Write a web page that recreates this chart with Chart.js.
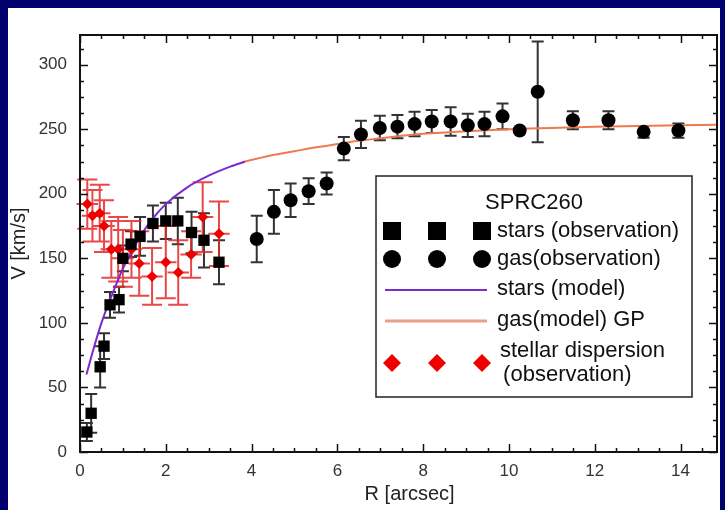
<!DOCTYPE html>
<html>
<head>
<meta charset="utf-8">
<script src="https://cdn.jsdelivr.net/npm/chart.js@4.4.1/dist/chart.umd.min.js"></script>
<style>
html, body { margin: 0; padding: 0; background: #00006e; }
#rc { display: block; }
</style>
</head>
<body>
<canvas id="rc" width="725" height="510"></canvas>
<script>
// stars (observation)
const starR = [0.16, 0.26, 0.47, 0.56, 0.70, 0.91, 1.00, 1.19, 1.40, 1.70, 2.00, 2.28, 2.60, 2.89, 3.24];
const starV = [15.5, 30, 66, 82, 114, 118, 150, 161, 167, 177, 179, 179, 170, 164, 147];
const starErr = [7, 15, 16, 10, 10, 10, 10, 10, 15, 14, 14, 18, 16, 21, 17];

// gas (observation)
const gasR = [4.12, 4.52, 4.91, 5.33, 5.75, 6.15, 6.55, 6.99, 7.40, 7.80, 8.20, 8.64, 9.04, 9.43, 9.85, 10.25, 10.67, 11.49, 12.32, 13.14, 13.95];
const gasV = [165, 186, 195, 202, 208, 235, 246, 251, 252, 254, 256, 256, 253, 254, 260, 249, 279, 257, 257, 248, 249];
const gasErr = [18, 17, 13, 10, 8.5, 9, 10.5, 9.5, 9, 9.5, 9, 11, 9, 9.5, 10, 2, 39, 7, 7, 4.5, 5.5];

// stellar dispersion (observation)
const dispR = [0.17, 0.29, 0.46, 0.56, 0.73, 0.89, 1.00, 1.20, 1.38, 1.68, 2.00, 2.29, 2.59, 2.86, 3.24];
const dispV = [192, 183, 185, 175, 157, 157, 150, 157, 146, 136, 147, 139, 153, 182, 169];
const dispErr = [19, 20, 22, 20, 22, 25, 22, 22, 25, 22, 28, 25, 18, 27, 25];
const dispRErr = [0.25, 0.25, 0.25, 0.25, 0.25, 0.25, 0.25, 0.25, 0.25, 0.25, 0.25, 0.25, 0.25, 0.25, 0.25];

// models
const starModelR = [0.15, 0.3, 0.5, 0.75, 1.0, 1.25, 1.5, 1.75, 2.0, 2.5, 3.0, 3.5, 3.85];
const starModelV = [60, 78, 100, 122, 142, 158, 172, 183, 192, 205, 214, 221, 225];
const gasModelR = [3.85, 4.5, 5, 5.5, 6, 6.5, 7, 7.5, 8, 9, 10, 11, 12, 13, 14, 15];
const gasModelV = [225, 230, 233, 236, 238.5, 241, 243, 245, 246.5, 248.5, 250, 251, 252, 252.5, 253, 253.5];

const xTicks = [0, 2, 4, 6, 8, 10, 12, 14];
const yTicks = [0, 50, 100, 150, 200, 250, 300];
const xMax = 14.85, yMax = 323;

function pts(xs, ys) {
  return xs.map((v, i) => ({ x: v, y: ys[i] }));
}

const FONT = "'Liberation Sans', Arial, sans-serif";

const background = {
  id: 'background',
  beforeDraw(chart) {
    const ctx = chart.ctx;
    ctx.save();
    ctx.fillStyle = '#00006e';
    ctx.fillRect(0, 0, chart.width, chart.height);
    ctx.fillStyle = '#ffffff';
    ctx.fillRect(8, 8, 712, 502);
    ctx.restore();
  }
};

const errorBars = {
  id: 'errorBars',
  beforeDatasetsDraw(chart) {
    const { ctx, scales: { x, y } } = chart;
    ctx.save();
    chart.data.datasets.forEach((ds) => {
      if (!ds.yErr) return;
      ctx.strokeStyle = ds.errColor;
      ctx.lineWidth = 2;
      ctx.beginPath();
      ds.data.forEach((p, i) => {
        const px = x.getPixelForValue(p.x);
        const y1 = y.getPixelForValue(p.y - ds.yErr[i]);
        const y2 = y.getPixelForValue(p.y + ds.yErr[i]);
        ctx.moveTo(px, y1); ctx.lineTo(px, y2);
        ctx.moveTo(px - ds.capW, y1); ctx.lineTo(px + ds.capW, y1);
        ctx.moveTo(px - ds.capW, y2); ctx.lineTo(px + ds.capW, y2);
        if (ds.xErr) {
          const py = y.getPixelForValue(p.y);
          ctx.moveTo(x.getPixelForValue(p.x - ds.xErr[i]), py);
          ctx.lineTo(x.getPixelForValue(p.x + ds.xErr[i]), py);
        }
      });
      ctx.stroke();
    });
    ctx.restore();
  }
};

const frameTicks = {
  id: 'frameTicks',
  afterDraw(chart) {
    const { ctx, chartArea: a, scales: { x, y } } = chart;
    ctx.save();
    ctx.strokeStyle = '#111';
    ctx.lineWidth = 1.5;
    ctx.beginPath();
    for (let v = 0; v <= xMax; v += 0.5) {
      const px = Math.round(x.getPixelForValue(v)) + 0.5;
      const len = v % 2 === 0 ? 8 : 4;
      ctx.moveTo(px, a.bottom); ctx.lineTo(px, a.bottom - len);
      ctx.moveTo(px, a.top); ctx.lineTo(px, a.top + len);
    }
    for (let v = 0; v <= yMax; v += 12.5) {
      const py = Math.round(y.getPixelForValue(v)) + 0.5;
      const len = v % 50 === 0 ? 8 : 4;
      ctx.moveTo(a.left, py); ctx.lineTo(a.left + len, py);
      ctx.moveTo(a.right, py); ctx.lineTo(a.right - len, py);
    }
    ctx.stroke();
    ctx.lineWidth = 2;
    ctx.strokeRect(a.left, a.top, a.right - a.left, a.bottom - a.top);
    ctx.restore();
  }
};

const boxLegend = {
  id: 'boxLegend',
  afterDraw(chart) {
    const ctx = chart.ctx;
    const mx = [392, 437, 482];
    ctx.save();
    ctx.fillStyle = '#fff';
    ctx.fillRect(376, 176, 316, 221);
    ctx.strokeStyle = '#222';
    ctx.lineWidth = 1.5;
    ctx.strokeRect(376, 176, 316, 221);

    ctx.font = '22px ' + FONT;
    ctx.fillStyle = '#111';
    ctx.textBaseline = 'middle';
    ctx.textAlign = 'center';
    ctx.fillText('SPRC260', 534, 203);
    ctx.textAlign = 'left';
    ctx.fillText('stars (observation)', 497, 231);
    ctx.fillText('gas(observation)', 497, 259);
    ctx.fillText('stars (model)', 497, 289);
    ctx.fillText('gas(model) GP', 497, 320);
    ctx.fillText('stellar dispersion', 500, 351);
    ctx.fillText(' (observation)', 497, 375);

    mx.forEach((cx) => {
      ctx.fillStyle = '#000';
      ctx.fillRect(cx - 9, 231 - 9, 18, 18);
      ctx.beginPath();
      ctx.arc(cx, 259, 9, 0, Math.PI * 2);
      ctx.fill();
      ctx.fillStyle = '#ee0000';
      ctx.beginPath();
      ctx.moveTo(cx - 9, 363); ctx.lineTo(cx, 354); ctx.lineTo(cx + 9, 363); ctx.lineTo(cx, 372);
      ctx.closePath();
      ctx.fill();
    });
    ctx.lineWidth = 2;
    ctx.strokeStyle = '#7a2ad0';
    ctx.beginPath(); ctx.moveTo(385, 290); ctx.lineTo(487, 290); ctx.stroke();
    ctx.lineWidth = 3;
    ctx.strokeStyle = '#e8a08c';
    ctx.beginPath(); ctx.moveTo(385, 321); ctx.lineTo(487, 321); ctx.stroke();
    ctx.restore();
  }
};

const ctx = document.getElementById('rc').getContext('2d');
new Chart(ctx, {
  type: 'scatter',
  data: {
    datasets: [
      {
        label: 'gas(observation)',
        data: pts(gasR, gasV),
        yErr: gasErr, errColor: '#333', capW: 6,
        pointStyle: 'circle', pointRadius: 7, backgroundColor: '#000', borderWidth: 0
      },
      {
        label: 'stars (observation)',
        data: pts(starR, starV),
        yErr: starErr, errColor: '#333', capW: 6,
        pointStyle: 'rect', pointRadius: 8, backgroundColor: '#000', borderWidth: 0
      },
      {
        label: 'stellar dispersion',
        data: pts(dispR, dispV),
        yErr: dispErr, xErr: dispRErr, errColor: 'rgba(228,40,40,0.85)', capW: 10,
        pointStyle: 'rectRot', pointRadius: 5.5, backgroundColor: '#ee0000', borderWidth: 0
      },
      {
        label: 'stars (model)',
        data: pts(starModelR, starModelV),
        showLine: true, pointRadius: 0, borderColor: '#7a2ad0', borderWidth: 2,
        cubicInterpolationMode: 'monotone'
      },
      {
        label: 'gas(model) GP',
        data: pts(gasModelR, gasModelV),
        showLine: true, pointRadius: 0, borderColor: '#f07a50', borderWidth: 2,
        cubicInterpolationMode: 'monotone'
      }
    ]
  },
  options: {
    responsive: false,
    animation: false,
    devicePixelRatio: 1,
    layout: { padding: { top: 35, right: 8, left: 0, bottom: 0 } },
    plugins: {
      legend: { display: false },
      tooltip: { enabled: false }
    },
    scales: {
      x: {
        type: 'linear', min: 0, max: xMax,
        grid: { display: false, drawTicks: false },
        border: { display: false },
        afterFit(s) { s.height = 58; },
        afterBuildTicks(s) { s.ticks = xTicks.map((v) => ({ value: v })); },
        ticks: { padding: 9, color: '#333', font: { family: FONT, size: 17 }, maxRotation: 0 },
        title: { display: true, text: '    R [arcsec]', color: '#222', font: { family: FONT, size: 20 }, padding: { top: 0, bottom: 4 } }
      },
      y: {
        type: 'linear', min: 0, max: yMax,
        grid: { display: false, drawTicks: false },
        border: { display: false },
        afterFit(s) { s.width = 80; },
        afterBuildTicks(s) { s.ticks = yTicks.map((v) => ({ value: v })); },
        ticks: { padding: 13, color: '#333', font: { family: FONT, size: 17 } },
        title: { display: true, text: 'V [km/s]', color: '#222', font: { family: FONT, size: 20 }, padding: { top: 7, bottom: 0 } }
      }
    }
  },
  plugins: [background, errorBars, frameTicks, boxLegend]
});
</script>
</body>
</html>
